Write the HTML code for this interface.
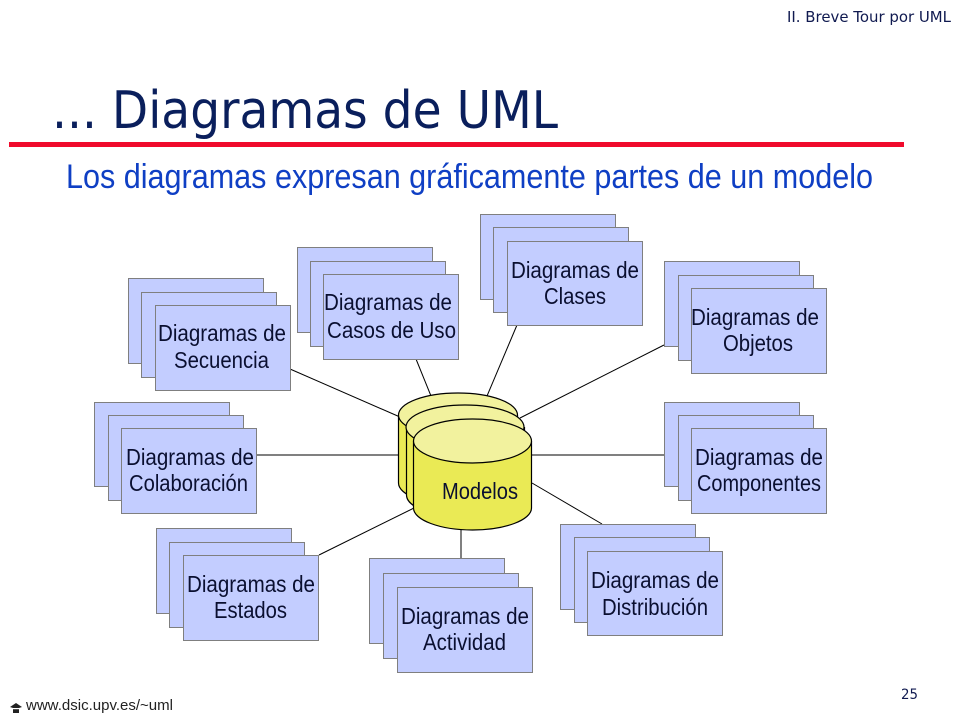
<!DOCTYPE html>
<html><head><meta charset="utf-8">
<style>
html,body{margin:0;padding:0;background:#fff}
svg{display:block}
text{font-family:"Liberation Sans",sans-serif}
.b{fill:#c3cdff;stroke:#7f7f7f;stroke-width:1}
.l{stroke:#000;stroke-width:1;fill:none}
.t{font-size:23px;fill:#0a0f30;text-anchor:start}
.cb{fill:#eaea55;stroke:#000;stroke-width:1.2}
.ct{fill:#f2f29e;stroke:#000;stroke-width:1.2}
</style></head><body>
<svg width="960" height="720" viewBox="0 0 960 720" xmlns="http://www.w3.org/2000/svg">
<text x="787" y="22" font-size="15" fill="#101a50" style="font-family:'DejaVu Sans',sans-serif" textLength="164" lengthAdjust="spacingAndGlyphs">II. Breve Tour por UML</text>
<text x="52" y="128" font-size="52" fill="#0a1f5c" style="font-family:'DejaVu Sans',sans-serif" textLength="506" lengthAdjust="spacingAndGlyphs">... Diagramas de UML</text>
<rect x="9" y="142" width="895" height="5" fill="#f00a2c"/>
<text x="66" y="188" font-size="34" fill="#0f3fc4" textLength="807" lengthAdjust="spacingAndGlyphs">Los diagramas expresan gráficamente partes de un modelo</text>

<g class="l">
<line x1="290" y1="369" x2="400" y2="417"/>
<line x1="416" y1="359" x2="431" y2="396"/>
<line x1="517" y1="325" x2="487" y2="396"/>
<line x1="664" y1="345" x2="520" y2="418"/>
<line x1="257" y1="455" x2="400" y2="455"/>
<line x1="530" y1="455" x2="664" y2="455"/>
<line x1="319" y1="555" x2="414" y2="508"/>
<line x1="461" y1="530" x2="461" y2="560"/>
<line x1="532" y1="483" x2="602" y2="524"/>
</g>

<g class="b">
<rect x="128.500" y="278.500" width="135" height="85"/><rect x="141.500" y="292.500" width="135" height="85"/><rect x="155.500" y="305.500" width="135" height="85"/>
<rect x="297.500" y="247.500" width="135" height="85"/><rect x="310.500" y="261.500" width="135" height="85"/><rect x="323.500" y="274.500" width="135" height="85"/>
<rect x="480.500" y="214.500" width="135" height="85"/><rect x="493.500" y="227.500" width="135" height="85"/><rect x="507.500" y="241.500" width="135" height="84"/>
<rect x="664.500" y="261.500" width="135" height="85"/><rect x="678.500" y="275.500" width="135" height="85"/><rect x="691.500" y="288.500" width="135" height="85"/>
<rect x="94.500" y="402.500" width="135" height="84"/><rect x="108.500" y="415.500" width="135" height="85"/><rect x="121.500" y="428.500" width="135" height="85"/>
<rect x="664.500" y="402.500" width="135" height="84"/><rect x="678.500" y="415.500" width="135" height="85"/><rect x="691.500" y="428.500" width="135" height="85"/>
<rect x="156.500" y="528.500" width="135" height="85"/><rect x="169.500" y="542.500" width="135" height="85"/><rect x="183.500" y="555.500" width="135" height="85"/>
<rect x="369.500" y="558.500" width="135" height="85"/><rect x="383.500" y="573.500" width="135" height="85"/><rect x="397.500" y="587.500" width="135" height="85"/>
<rect x="560.500" y="524.500" width="135" height="85"/><rect x="574.500" y="537.500" width="135" height="85"/><rect x="587.500" y="551.500" width="135" height="84"/>
</g>

<path class="cb" d="M398.500 415V483C398.500 495 425 505 458 505S517.500 495 517.500 483V415"/>
<ellipse class="ct" cx="458" cy="415" rx="59.500" ry="22"/>
<path class="cb" d="M406.500 427V495C406.500 507 432 517 465 517S524.500 507 524.500 495V427"/>
<ellipse class="ct" cx="465" cy="427" rx="59" ry="22"/>
<path class="cb" d="M413.500 441V508C413.500 520 440 530 472.500 530S531.500 520 531.500 508V441"/>
<ellipse class="ct" cx="472.500" cy="441" rx="59" ry="22"/>

<g class="t">
<text x="158" y="341" textLength="128" lengthAdjust="spacingAndGlyphs">Diagramas de</text>
<text x="174" y="368" textLength="95" lengthAdjust="spacingAndGlyphs">Secuencia</text>
<text x="324" y="310" textLength="128" lengthAdjust="spacingAndGlyphs">Diagramas de</text>
<text x="327" y="338" textLength="129" lengthAdjust="spacingAndGlyphs">Casos de Uso</text>
<text x="511" y="278" textLength="128" lengthAdjust="spacingAndGlyphs">Diagramas de</text>
<text x="544" y="304" textLength="62" lengthAdjust="spacingAndGlyphs">Clases</text>
<text x="691" y="325" textLength="128" lengthAdjust="spacingAndGlyphs">Diagramas de</text>
<text x="723" y="351" textLength="70" lengthAdjust="spacingAndGlyphs">Objetos</text>
<text x="126" y="465" textLength="128" lengthAdjust="spacingAndGlyphs">Diagramas de</text>
<text x="129" y="491" textLength="119" lengthAdjust="spacingAndGlyphs">Colaboración</text>
<text x="695" y="465" textLength="128" lengthAdjust="spacingAndGlyphs">Diagramas de</text>
<text x="697" y="491" textLength="124" lengthAdjust="spacingAndGlyphs">Componentes</text>
<text x="187" y="592" textLength="128" lengthAdjust="spacingAndGlyphs">Diagramas de</text>
<text x="214" y="618" textLength="73" lengthAdjust="spacingAndGlyphs">Estados</text>
<text x="401" y="624" textLength="128" lengthAdjust="spacingAndGlyphs">Diagramas de</text>
<text x="423" y="650" textLength="83" lengthAdjust="spacingAndGlyphs">Actividad</text>
<text x="591" y="588" textLength="128" lengthAdjust="spacingAndGlyphs">Diagramas de</text>
<text x="602" y="615" textLength="106" lengthAdjust="spacingAndGlyphs">Distribución</text>
<text x="442" y="499" textLength="76" lengthAdjust="spacingAndGlyphs">Modelos</text>
</g>

<path d="M10 707L16 703L22 707L19 708V713H13V708Z" fill="#222"/>
<rect x="11" y="708" width="10" height="1.200" fill="#fff"/>
<text x="26" y="710" font-size="14.500" fill="#222" textLength="147" lengthAdjust="spacingAndGlyphs">www.dsic.upv.es/~uml</text>
<text x="901" y="699" font-size="14" fill="#101a50" style="font-family:'DejaVu Sans',sans-serif" textLength="17" lengthAdjust="spacingAndGlyphs">25</text>
</svg>
</body></html>
